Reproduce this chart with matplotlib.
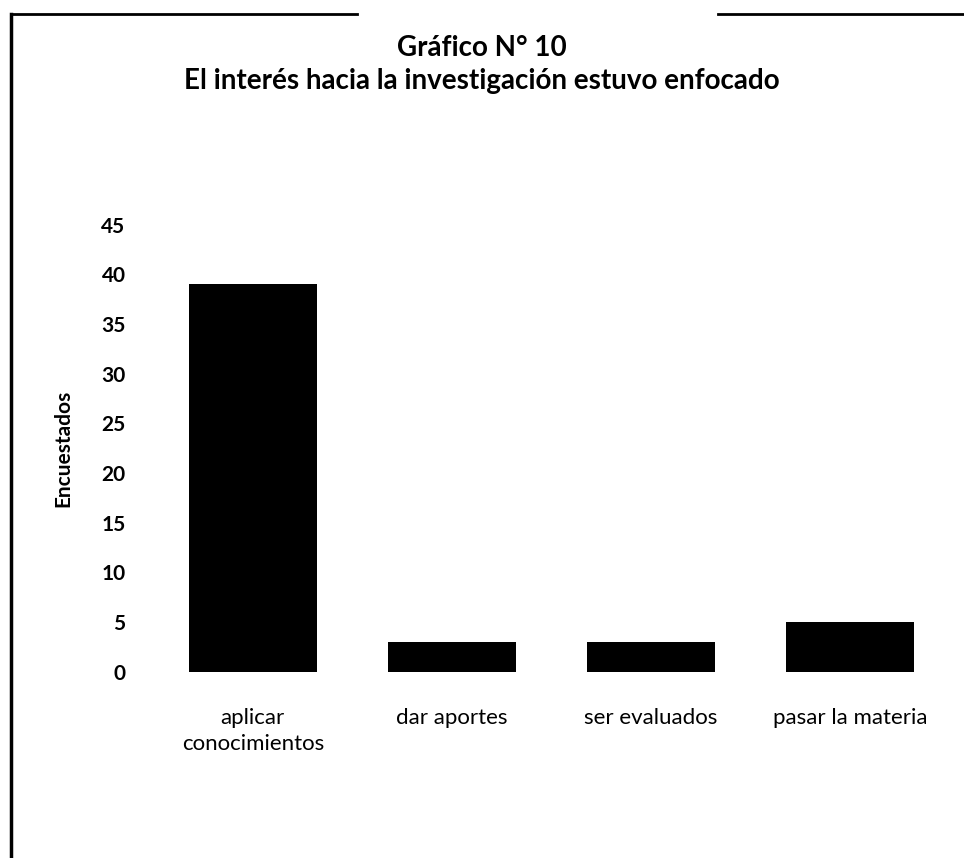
import matplotlib
matplotlib.use('Agg')
import matplotlib.pyplot as plt
from matplotlib.lines import Line2D

categories = ['aplicar\nconocimientos', 'dar aportes', 'ser evaluados', 'pasar la materia']
encuestados = [39, 3, 3, 5]
y_ticks = [0, 5, 10, 15, 20, 25, 30, 35, 40, 45]

plt.rcParams.update({'font.family': ['Lato', 'DejaVu Sans']})

fig = plt.figure(figsize=(9.64, 8.58), dpi=100)
ax = fig.add_axes([0.159, 0.217, 0.826, 0.521])

x = range(len(categories))
ax.bar(x, encuestados, width=0.64, color='black')
ax.set_xlim(-0.5, len(categories) - 0.5)
ax.set_ylim(0, 45)
ax.set_yticks(y_ticks)
ax.set_yticklabels([str(v) for v in y_ticks], fontsize=15, fontweight='bold')
ax.set_xticks(list(x))
ax.set_xticklabels(categories, fontsize=16, linespacing=1.4)
ax.tick_params(axis='y', length=0, pad=20)
ax.tick_params(axis='x', length=0, pad=26)
for s in ax.spines.values():
    s.set_visible(False)
ax.set_ylabel('Encuestados', fontsize=15, fontweight='bold', labelpad=20)

fig.text(0.5, 0.944, 'Gráfico N° 10', ha='center', va='center', fontsize=20, fontweight='bold')
fig.text(0.5, 0.906, 'El interés hacia la investigación estuvo enfocado', ha='center', va='center',
         fontsize=20, fontweight='bold')

# marco recortado del documento original
fig.add_artist(Line2D([0.011, 0.011], [0.0, 0.984], color='black', lw=2.5))
fig.add_artist(Line2D([0.011, 0.37], [0.984, 0.984], color='black', lw=2))
fig.add_artist(Line2D([0.745, 1.0], [0.984, 0.984], color='black', lw=2))

fig.savefig('out.png', dpi=100)
